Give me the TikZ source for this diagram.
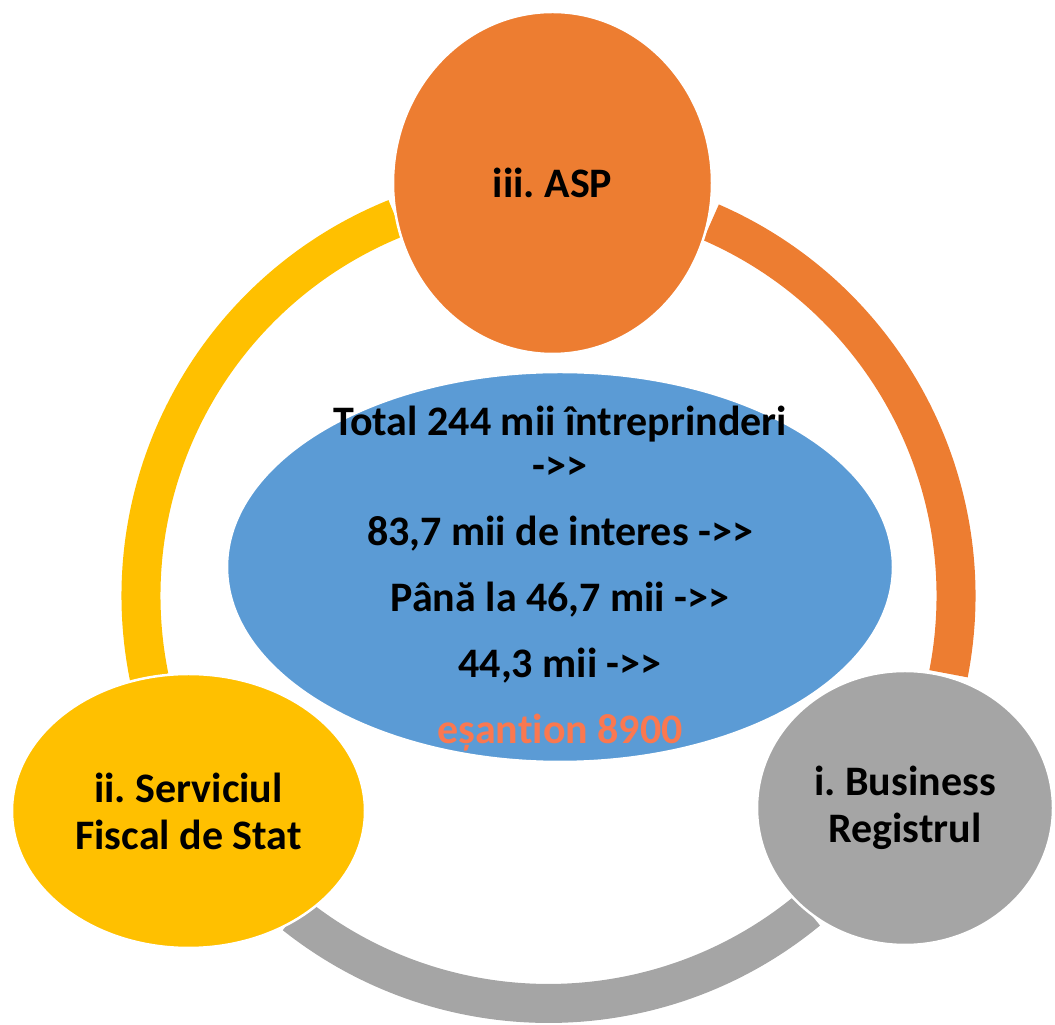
\documentclass[tikz,border=0pt]{standalone}
\usepackage{fontspec}
\setmainfont{Carlito}[Ligatures={TeXOff,NoCommon}]
\usetikzlibrary{shapes.geometric}
\frenchspacing

\definecolor{aspOrange}{RGB}{237,125,49}
\definecolor{sfsGelb}{RGB}{255,192,0}
\definecolor{brGrau}{RGB}{165,165,165}
\definecolor{mitteBlau}{RGB}{91,155,213}
\definecolor{probeRot}{RGB}{250,120,80}

\begin{document}
\begin{tikzpicture}[x=1pt, y=1pt,
	bogen/.style={line width=39pt},
	blase/.style={ellipse, draw=white, line width=2.5pt, inner sep=0pt},
	titel/.style={align=center, inner sep=0pt, font=\fontsize{42}{47}\selectfont\bfseries}]
	\useasboundingbox (0,0) rectangle (1055,1025); % Rand um Grafik

	% Ring zwischen den drei Quellen
	\coordinate (m) at (548.5,429);
	\draw[bogen, sfsGelb] (m) ++(112:407.5) arc[start angle=112, end angle=191.5, radius=407.5];
	\draw[bogen, brGrau] (m) ++(231.5:407.5) arc[start angle=231.5, end angle=309.5, radius=407.5];
	\draw[bogen, aspOrange] (m) ++(-11:407.5) arc[start angle=-11, end angle=66.5, radius=407.5];

	\node[blase, fill=mitteBlau, minimum width=666pt, minimum height=390pt] (samp) at (560,458) {};
	\node[titel, font=\fontsize{42}{44}\selectfont\bfseries] (flux) at (560,446)
		{Total 244 mii întreprinderi\\->>\\[22pt]83,7 mii de interes ->>\\[22pt]Până la 46,7 mii ->>\\[22pt]44,3 mii ->>\\[22pt]\textcolor{probeRot}{eșantion 8900}};

	\node[blase, fill=sfsGelb, minimum width=353pt, minimum height=274pt] (sfs) at (188.5,214) {};
	\node[titel] (sfs-t) at (sfs) {ii. Serviciul\\Fiscal de Stat};

	\node[blase, fill=brGrau, minimum width=296pt, minimum height=274pt] (br) at (905,217) {};
	\node[titel] (br-t) at (br) {i. Business\\Registrul};

	\node[blase, fill=aspOrange, minimum width=319pt, minimum height=342pt] (asp) at (552.5,842) {};
	\node[titel] (asp-t) at (asp) {iii. ASP};

	%\draw[help lines, step=50] (0,0) grid (1055,1025);
\end{tikzpicture}
\end{document}
